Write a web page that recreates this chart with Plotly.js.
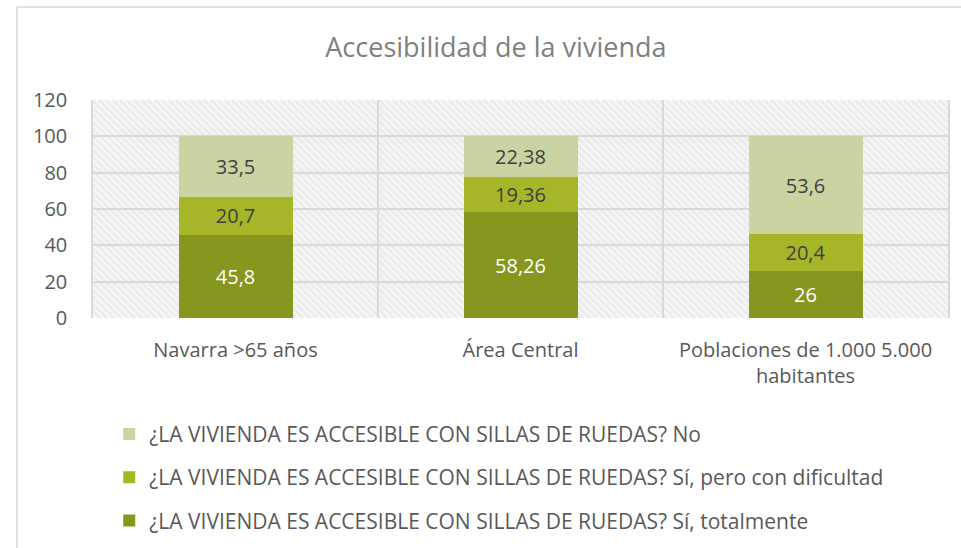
<!DOCTYPE html>
<html>
<head>
<meta charset="utf-8">
<script src="https://cdn.plot.ly/plotly-3.0.1.min.js"></script>
<style>
  html, body { margin: 0; padding: 0; background: #fff; }
  #chart { width: 961px; height: 548px; }
</style>
</head>
<body>
<div id="chart"></div>
<script>
// categories and series
const categories = ['Navarra >65 años', 'Área Central', 'Poblaciones de 1.000 5.000<br>habitantes'];
const totalmente = [45.8, 58.26, 26];
const conDificultad = [20.7, 19.36, 20.4];
const noAccesible = [33.5, 22.38, 53.6];
const seriesNames = [
  '¿LA VIVIENDA ES ACCESIBLE CON SILLAS DE RUEDAS? Sí, totalmente',
  '¿LA VIVIENDA ES ACCESIBLE CON SILLAS DE RUEDAS? Sí, pero con dificultad',
  '¿LA VIVIENDA ES ACCESIBLE CON SILLAS DE RUEDAS? No'
];

const FONT = '"Open Sans", "Noto Sans", sans-serif';

// label numbers with a decimal comma like the original
function labels(vals) {
  return vals.map(v => String(v).replace('.', ','));
}

function barTrace(vals, name, color, textColor, rank) {
  return {
    type: 'bar',
    x: categories,
    y: vals,
    name: name,
    legendgroup: name,
    legendrank: rank,
    marker: { color: color },
    text: labels(vals),
    textposition: 'inside',
    insidetextanchor: 'middle',
    textangle: 0,
    textfont: { family: FONT, size: 20, color: textColor },
    hoverinfo: 'x+y+name'
  };
}

const data = [
  barTrace(totalmente, seriesNames[0], '#87961f', '#ffffff', 3),
  barTrace(conDificultad, seriesNames[1], '#a7b628', '#404040', 2),
  barTrace(noAccesible, seriesNames[2], '#cbd3a3', '#404040', 1)
];

// light diagonal hatch for the plot area, like the original's pattern fill
function hatch(w, h) {
  const c = document.createElement('canvas');
  c.width = w; c.height = h;
  const ctx = c.getContext('2d');
  ctx.fillStyle = '#f6f6f6';
  ctx.fillRect(0, 0, w, h);
  ctx.strokeStyle = '#ebebeb';
  ctx.lineWidth = 2.5;
  for (let i = -h; i < w + h; i += 7) {
    ctx.beginPath();
    ctx.moveTo(i, 0);
    ctx.lineTo(i + h, h);
    ctx.stroke();
  }
  return c.toDataURL('image/png');
}

const layout = {
  width: 961,
  height: 548,
  margin: { l: 93, r: 13, t: 100, b: 230 },
  paper_bgcolor: '#ffffff',
  plot_bgcolor: '#f2f2f2',
  font: { family: FONT, color: '#595959', size: 20 },
  barmode: 'stack',
  bargap: 0.6,
  title: {
    text: 'Accesibilidad de la vivienda',
    font: { family: FONT, size: 27, color: '#808080' },
    x: 0.516, xanchor: 'center',
    y: 0.913, yanchor: 'middle'
  },
  xaxis: {
    type: 'category',
    tickson: 'boundaries',
    showgrid: true,
    gridcolor: '#d9d9d9',
    gridwidth: 1.5,
    ticks: '',
    showline: false,
    zeroline: false,
    ticklabelstandoff: 18,
    tickfont: { family: FONT, size: 20, color: '#595959' },
    range: [-0.5, 2.5]
  },
  yaxis: {
    range: [0, 120],
    dtick: 20,
    showgrid: true,
    gridcolor: '#d9d9d9',
    gridwidth: 1.5,
    zeroline: false,
    showline: true,
    mirror: true,
    linecolor: '#d9d9d9',
    linewidth: 1.5,
    ticks: '',
    ticklabelstandoff: 20,
    tickfont: { family: FONT, size: 20, color: '#595959' }
  },
  legend: {
    orientation: 'v',
    xref: 'paper', yref: 'container',
    x: 0.019, xanchor: 'left',
    y: 0.245, yanchor: 'top',
    traceorder: 'grouped',
    tracegroupgap: 13,
    font: { family: FONT, size: 21, color: '#595959' },
    bgcolor: 'rgba(0,0,0,0)'
  },
  images: [
    { source: hatch(855, 218), xref: 'paper', yref: 'paper', x: 0, y: 1,
      sizex: 1, sizey: 1, sizing: 'stretch', xanchor: 'left', yanchor: 'top', layer: 'below' }
  ],
  shapes: [
    // outer chart border (only the left and top edges are in frame)
    { type: 'line', xref: 'paper', yref: 'paper', x0: -0.0889, x1: -0.0889, y0: 1.4266, y1: -1.2,
      line: { color: '#d9d9d9', width: 1.5 } },
    { type: 'line', xref: 'paper', yref: 'paper', x0: -0.0889, x1: 1.1, y0: 1.4266, y1: 1.4266,
      line: { color: '#d9d9d9', width: 1.5 } }
  ]
};

Plotly.newPlot('chart', data, layout, { displayModeBar: false, responsive: false });
</script>
</body>
</html>
